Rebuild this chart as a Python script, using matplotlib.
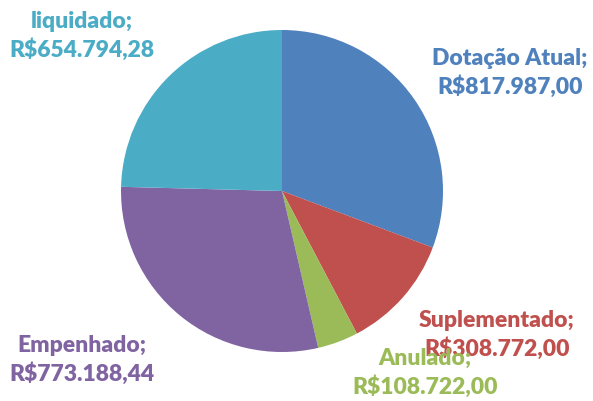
import matplotlib.pyplot as plt

categorias = ['Dotação Atual', 'Suplementado', 'Anulado', 'Empenhado', 'liquidado']
valores = [817987.00, 308772.00, 108722.00, 773188.44, 654794.28]
rotulos = ['R$817.987,00', 'R$308.772,00', 'R$108.722,00', 'R$773.188,44', 'R$654.794,28']
cores = ['#4F81BD', '#C0504D', '#9BBB59', '#8064A2', '#4BACC6']

W, H = 593, 401
fig = plt.figure(figsize=(W / 100, H / 100), dpi=100)

# pie centered at (282, 191) px, radius 161 px
cx, cy, r = 282, 191, 161
ax = fig.add_axes([(cx - r) / W, (H - cy - r) / H, 2 * r / W, 2 * r / H])
ax.pie(valores, colors=cores, startangle=90, counterclock=False, radius=1,
       wedgeprops=dict(linewidth=0))
ax.set_xlim(-1, 1)
ax.set_ylim(-1, 1)
ax.set_aspect('equal')
ax.axis('off')

# label positions in pixels (x center, y center of the two lines)
pos = [(510, 73), (497, 335), (425, 373), (82, 360), (82, 36)]
for cat, rot, cor, (x, y) in zip(categorias, rotulos, cores, pos):
    fig.text(x / W, 1 - y / H, f'{cat};\n{rot}', color=cor, ha='center', va='center',
             fontsize=16.5, fontweight='heavy', family=['Lato', 'DejaVu Sans'],
             linespacing=1.35)

fig.savefig('out.png', dpi=100)
